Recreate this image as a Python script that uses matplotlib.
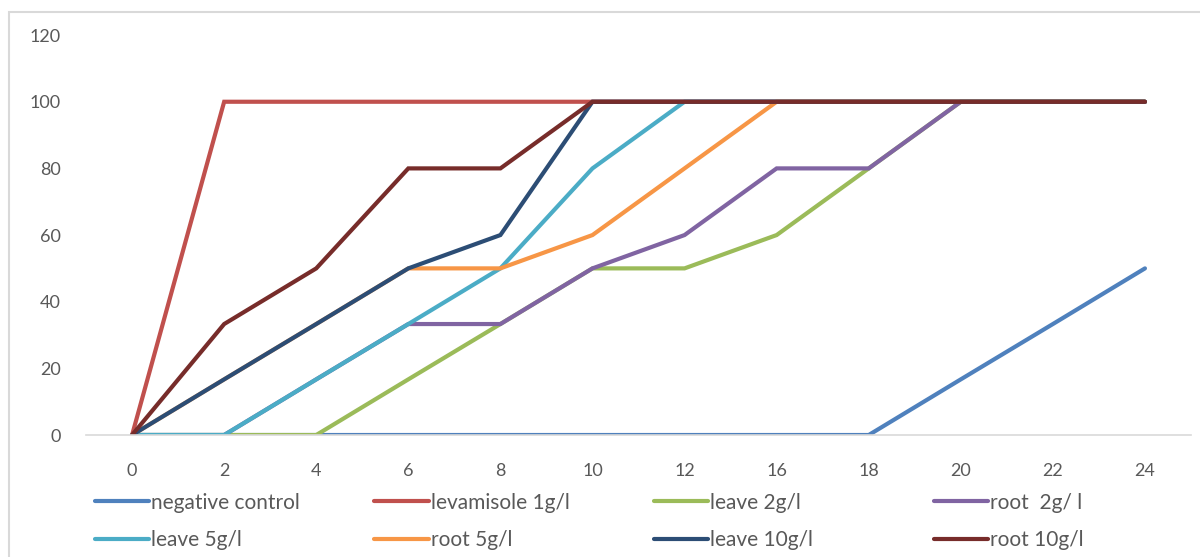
import matplotlib.pyplot as plt
from matplotlib.patches import Rectangle

hours = ["0", "2", "4", "6", "8", "10", "12", "16", "18", "20", "22", "24"]

negative_control = [0, 0, 0, 0, 0, 0, 0, 0, 0, 16.7, 33.3, 50]
levamisole_1 = [0, 100, 100, 100, 100, 100, 100, 100, 100, 100, 100, 100]
leave_2 = [0, 0, 0, 16.7, 33.3, 50, 50, 60, 80, 100, 100, 100]
root_2 = [0, 0, 16.7, 33.3, 33.3, 50, 60, 80, 80, 100, 100, 100]
leave_5 = [0, 0, 16.7, 33.3, 50, 80, 100, 100, 100, 100, 100, 100]
root_5 = [0, 16.7, 33.3, 50, 50, 60, 80, 100, 100, 100, 100, 100]
leave_10 = [0, 16.7, 33.3, 50, 60, 100, 100, 100, 100, 100, 100, 100]
root_10 = [0, 33.3, 50, 80, 80, 100, 100, 100, 100, 100, 100, 100]

series = [
    ("negative control", negative_control, "#4F81BD"),
    ("levamisole 1g/l", levamisole_1, "#C0504D"),
    ("leave 2g/l", leave_2, "#9BBB59"),
    ("root  2g/ l", root_2, "#8064A2"),
    ("leave 5g/l", leave_5, "#4BACC6"),
    ("root 5g/l", root_5, "#F79646"),
    ("leave 10g/l", leave_10, "#2C4D75"),
    ("root 10g/l", root_10, "#772C2A"),
]

plt.rcParams["font.family"] = ["Lato", "DejaVu Sans"]
TXT = "#595959"

fig = plt.figure(figsize=(12, 5.57), dpi=100)
ax = fig.add_axes([0.0717, 0.219, 0.9208, 0.718])

x = list(range(len(hours)))
handles = []
for name, vals, color in series:
    (h,) = ax.plot(x, vals, color=color, lw=3, label=name,
                   solid_capstyle="round", solid_joinstyle="miter")
    handles.append(h)

ax.set_xlim(-0.5, len(hours) - 0.5)
ax.set_ylim(0, 120)
ax.set_yticks(range(0, 121, 20))
ax.set_xticks(x)
ax.set_xticklabels(hours)
ax.tick_params(axis="both", length=0, labelsize=13, colors=TXT)
ax.tick_params(axis="x", pad=20)
ax.tick_params(axis="y", pad=18)
for side in ("top", "right", "left"):
    ax.spines[side].set_visible(False)
ax.spines["bottom"].set_color("#D9D9D9")
ax.spines["bottom"].set_linewidth(1.2)

# legend: 4 columns x 2 rows, each column placed on its own
col_x = [0.072, 0.305, 0.538, 0.771]
for c, cx in enumerate(col_x):
    pair = [handles[c], handles[c + 4]]
    leg = fig.legend(pair, [h.get_label() for h in pair], loc="lower left",
                     bbox_to_anchor=(cx, -0.003), frameon=False, fontsize=15,
                     handlelength=2.6, handletextpad=0.1, labelspacing=0.85,
                     borderaxespad=0)
    for t in leg.get_texts():
        t.set_color(TXT)

fig.patches.append(Rectangle((0.0075, -0.1), 1.1, 1.079, transform=fig.transFigure,
                             fill=False, edgecolor="#D9D9D9", lw=1.5))

fig.savefig("out.png", dpi=100)
